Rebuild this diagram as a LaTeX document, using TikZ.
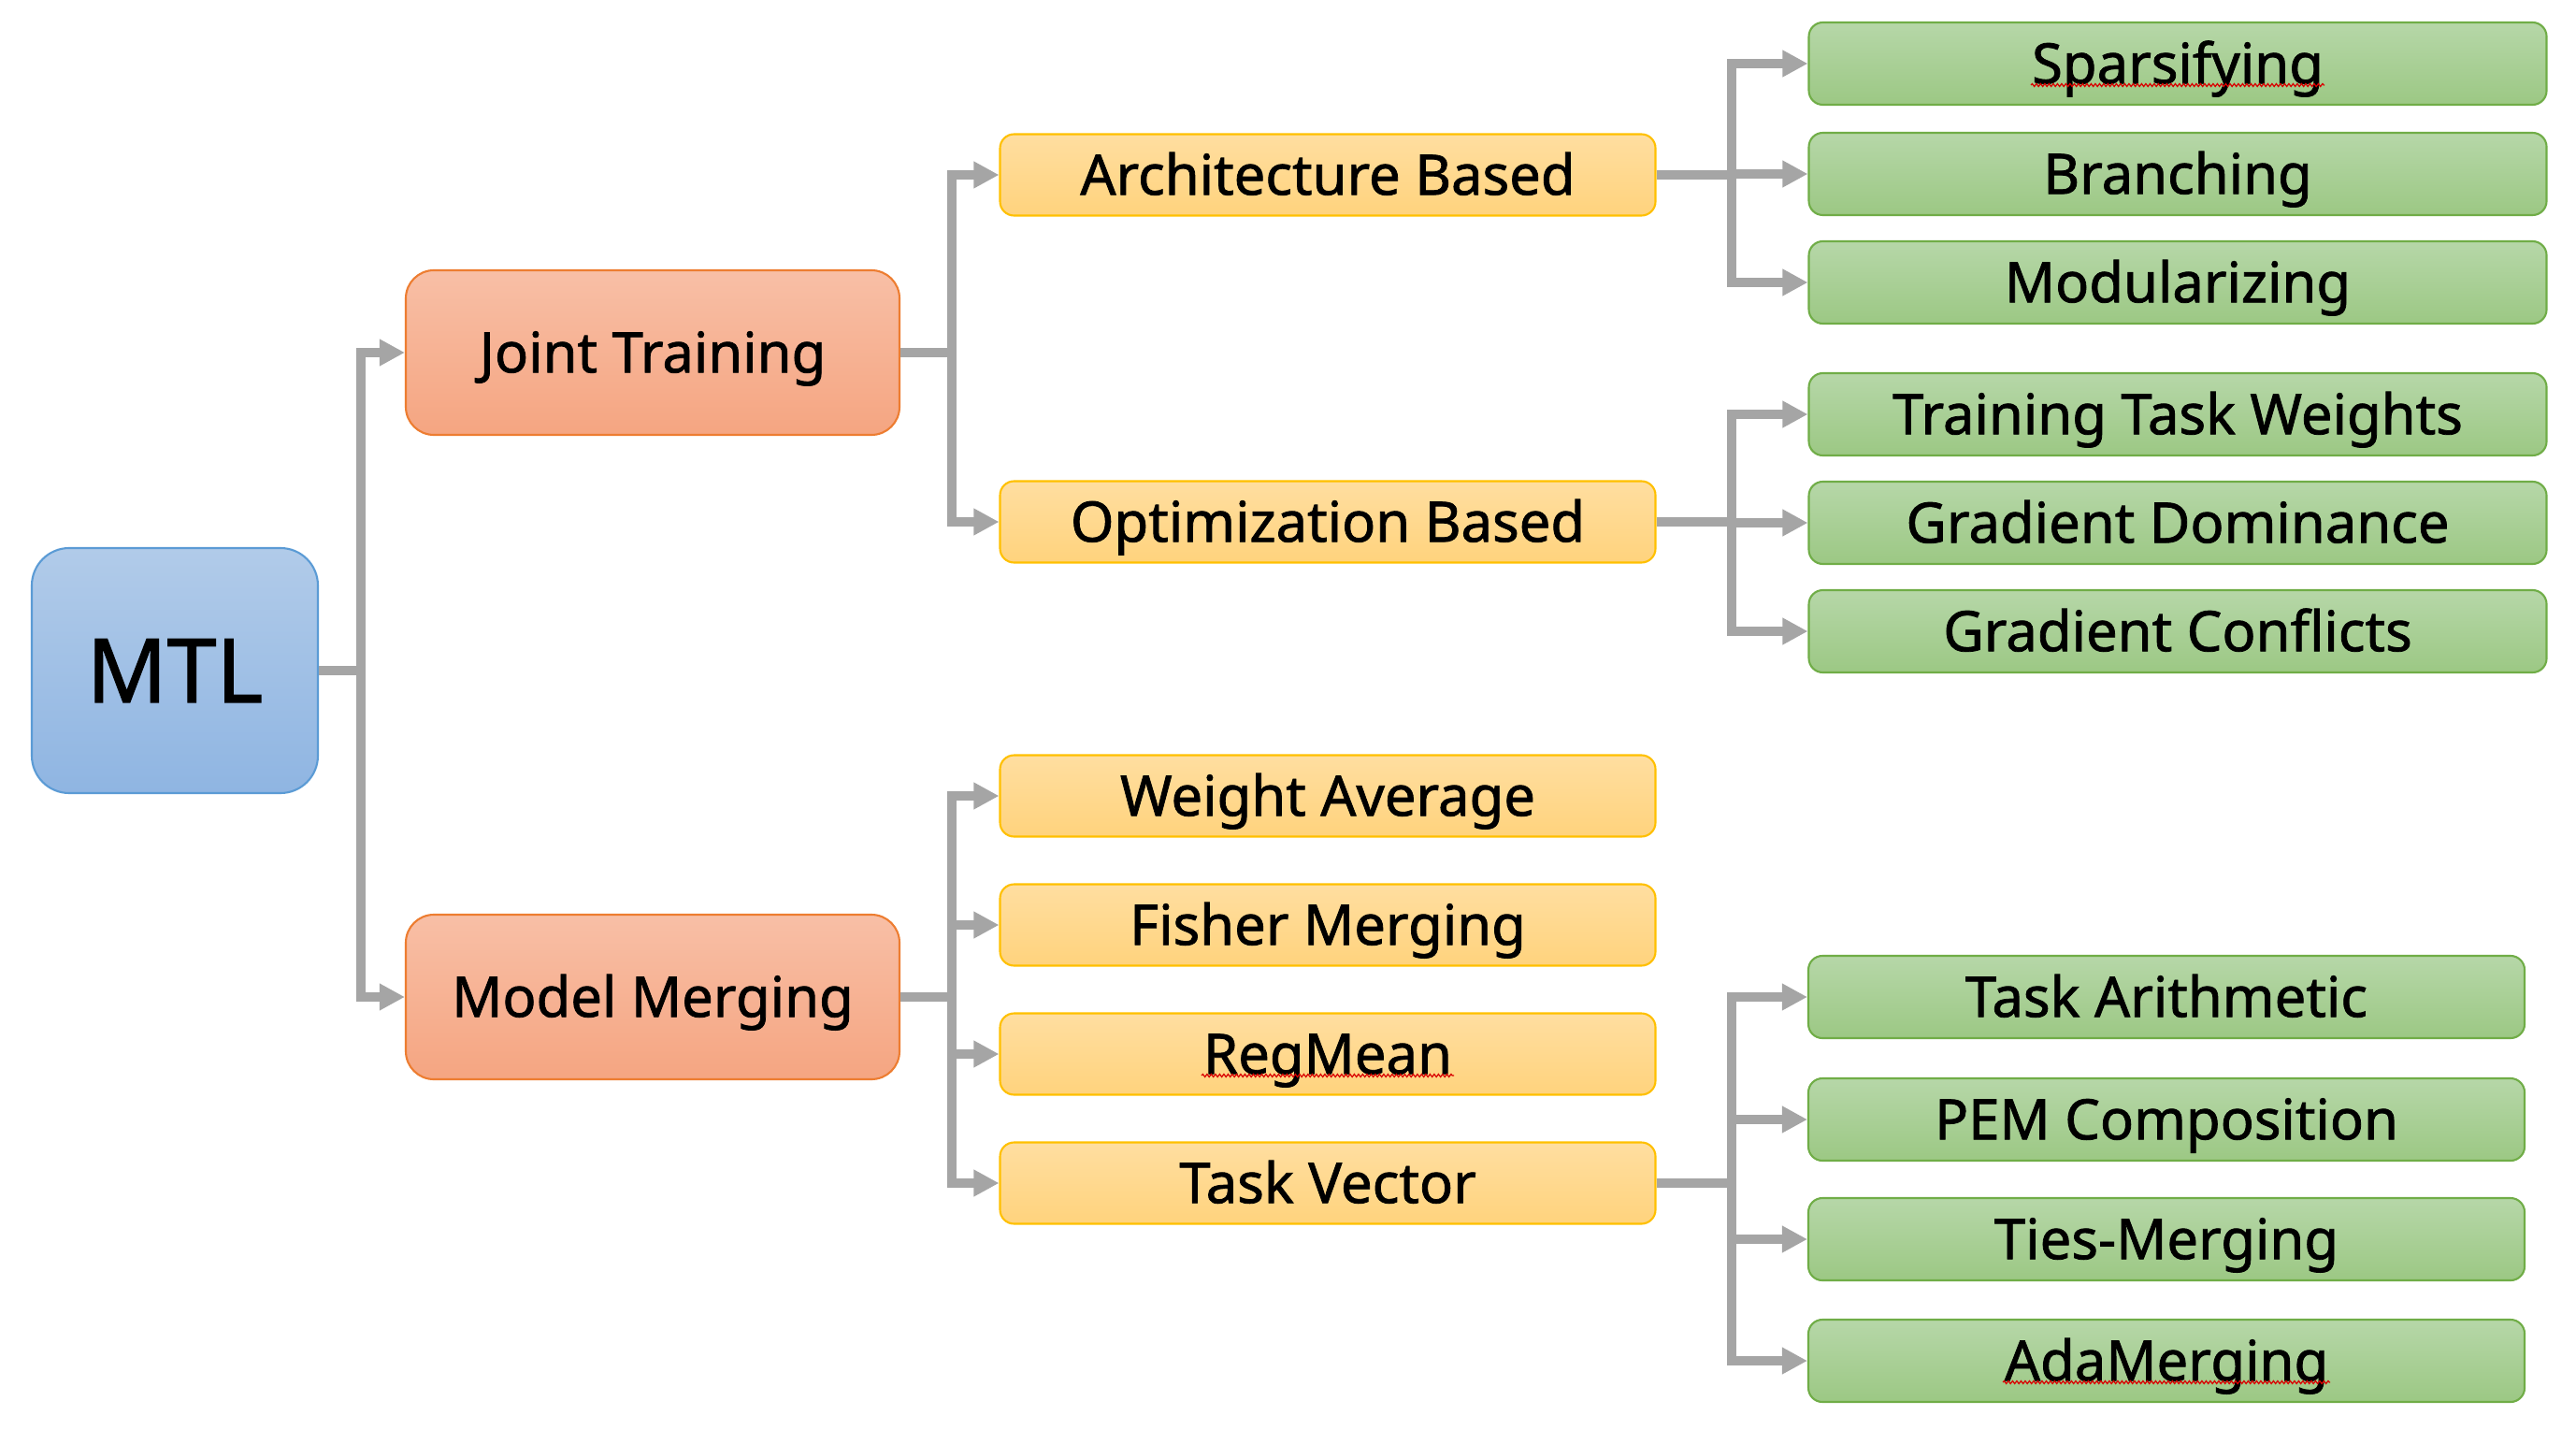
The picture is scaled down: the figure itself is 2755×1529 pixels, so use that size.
\documentclass[tikz,border=0pt]{standalone}
\usepackage{fontspec}
\setmainfont{Noto Sans}[FakeBold=1.3]
\usetikzlibrary{arrows.meta,decorations.pathmorphing}
\definecolor{connc}{HTML}{A5A5A5}
\definecolor{blueT}{HTML}{B1CBE9}
\definecolor{blueB}{HTML}{8FB5E2}
\definecolor{blueD}{HTML}{5B9BD5}
\definecolor{orT}{HTML}{F8BFA6}
\definecolor{orB}{HTML}{F5A581}
\definecolor{orD}{HTML}{ED7D31}
\definecolor{yeT}{HTML}{FFDEA0}
\definecolor{yeB}{HTML}{FFD37D}
\definecolor{yeD}{HTML}{FFC000}
\definecolor{grT}{HTML}{B6D7A8}
\definecolor{grB}{HTML}{9CC884}
\definecolor{grD}{HTML}{70AD47}
\begin{document}
\begin{tikzpicture}[x=0.1mm,y=-0.1mm,
  basebox/.style={draw, line width=0.6pt, align=center, inner sep=0pt,
    text height=12.1pt, text depth=0pt,
    font=\fontsize{17}{20}\selectfont},
  mtlbox/.style={basebox, minimum width=30.6mm, minimum height=26.2mm,
    rounded corners=4mm, top color=blueT, bottom color=blueB, draw=blueD,
    text height=19.3pt, font=\fontsize{27}{32}\selectfont},
  l1box/.style={basebox, minimum width=52.8mm, minimum height=17.6mm,
    rounded corners=3mm, top color=orT, bottom color=orB, draw=orD},
  l2box/.style={basebox, minimum width=70.1mm, minimum height=8.7mm,
    rounded corners=1.5mm, top color=yeT, bottom color=yeB, draw=yeD},
  l3box/.style={basebox, minimum width=78.9mm, minimum height=8.8mm,
    rounded corners=1.5mm, top color=grT, bottom color=grB, draw=grD},
  l3boxb/.style={l3box, minimum width=76.6mm},
  conn/.style={draw=connc, line width=2.85pt},
  arr/.style={conn, -{Triangle[length=7.7pt,width=7.7pt]}},
  squig/.style={draw=red!85!black, line width=0.35pt, decorate,
    decoration={snake, amplitude=0.15mm, segment length=0.45mm}}
]
\useasboundingbox (0,0) rectangle (2755,1529);

% nodes
\node[mtlbox] (mtl) at (187,717) {MTL};
\node[l1box] (jt) at (698,377) {Joint Training};
\node[l1box] (mm) at (698,1066) {Model Merging};

\node[l2box] (arch) at (1420,187) {Architecture Based};
\node[l2box] (opt) at (1420,558) {Optimization Based};
\node[l2box] (wa) at (1420,851) {Weight Average};
\node[l2box] (fm) at (1420,989) {Fisher Merging};
\node[l2box] (rm) at (1420,1127) {RegMean};
\node[l2box] (tv) at (1420,1265) {Task Vector};

\node[l3box] (sp) at (2329,68) {Sparsifying};
\node[l3box] (br) at (2329,186) {Branching};
\node[l3box] (mo) at (2329,302) {Modularizing};
\node[l3box] (ttw) at (2329,443) {Training Task Weights};
\node[l3box] (gd) at (2329,559) {Gradient Dominance};
\node[l3box] (gc) at (2329,675) {Gradient Conflicts};

\node[l3boxb] (ta) at (2317,1066) {Task Arithmetic};
\node[l3boxb] (pem) at (2317,1197) {PEM Composition};
\node[l3boxb] (ties) at (2317,1325) {Ties-Merging};
\node[l3boxb] (ada) at (2317,1455) {AdaMerging};

% spell-check underlines
\draw[squig] ([xshift=-15.7mm,yshift=-2.3mm]sp.center) -- ++(314,0);
\draw[squig] ([xshift=-13.5mm,yshift=-2.3mm]rm.center) -- ++(270,0);
\draw[squig] ([xshift=-17.5mm,yshift=-2.3mm]ada.center) -- ++(350,0);

% junctions
\coordinate (j1) at ([xshift=4.5mm]mtl.east);
\coordinate (j2) at ([xshift=5.5mm]jt.east);
\coordinate (j3) at ([xshift=5.5mm]mm.east);
\coordinate (j4) at ([xshift=8mm]arch.east);
\coordinate (j5) at ([xshift=8mm]opt.east);
\coordinate (j6) at ([xshift=8mm]tv.east);

% connectors
\draw[conn] (mtl.east) -- (j1);
\draw[arr] (j1) |- (jt.west);
\draw[arr] (j1) |- (mm.west);

\draw[conn] (jt.east) -- (j2);
\draw[arr] (j2) |- (arch.west);
\draw[arr] (j2) |- (opt.west);

\draw[conn] (mm.east) -- (j3);
\draw[arr] (j3) |- (wa.west);
\draw[arr] (j3) |- (fm.west);
\draw[arr] (j3) |- (rm.west);
\draw[arr] (j3) |- (tv.west);

\draw[conn] (arch.east) -- (j4);
\draw[arr] (j4) |- (sp.west);
\draw[arr] (j4) |- (br.west);
\draw[arr] (j4) |- (mo.west);

\draw[conn] (opt.east) -- (j5);
\draw[arr] (j5) |- (ttw.west);
\draw[arr] (j5) |- (gd.west);
\draw[arr] (j5) |- (gc.west);

\draw[conn] (tv.east) -- (j6);
\draw[arr] (j6) |- (ta.west);
\draw[arr] (j6) |- (pem.west);
\draw[arr] (j6) |- (ties.west);
\draw[arr] (j6) |- (ada.west);
\end{tikzpicture}
\end{document}
